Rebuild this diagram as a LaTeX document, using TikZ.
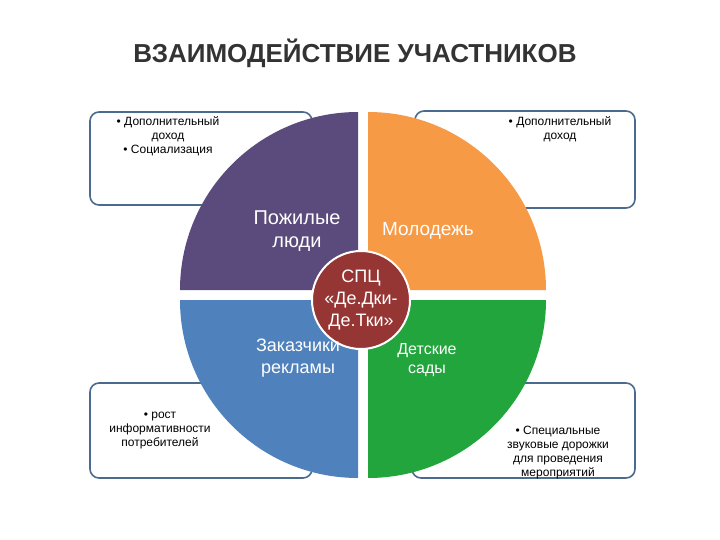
\documentclass[tikz,border=0pt]{standalone}
\usepackage{fontspec}
\setmainfont{Liberation Sans}
\definecolor{qpurple}{HTML}{5B4A7C}
\definecolor{qorange}{HTML}{F79A46}
\definecolor{qblue}{HTML}{4F81BD}
\definecolor{qgreen}{HTML}{21A53C}
\definecolor{qcenter}{HTML}{963634}
\definecolor{qbox}{HTML}{4A6A8E}
\definecolor{qtitle}{HTML}{333333}
\begin{document}
\begin{tikzpicture}[x=1pt,y=-1pt,
  infobox/.style={draw=qbox,line width=1.6pt,rounded corners=9pt,fill=white},
  boxtext/.style={align=center,font=\fontsize{12}{14}\selectfont,text=black},
  qlabel/.style={align=center,text=white}]
\useasboundingbox (0,0) rectangle (720,540);
\node[text=qtitle] (title) at (355,53) {\fontsize{26}{30}\selectfont\bfseries ВЗАИМОДЕЙСТВИЕ УЧАСТНИКОВ};
\draw[infobox] (90,112) rectangle (312,205);
\draw[infobox] (415,111) rectangle (635,208);
\draw[infobox] (90,383) rectangle (312,478);
\draw[infobox] (412,383) rectangle (635,478);
\node[boxtext] (t1) at (168,136) {• Дополнительный\\доход\\• Социализация};
\node[boxtext] (t2) at (560,129) {• Дополнительный\\доход};
\node[boxtext] (t3) at (160,431) {• рост\\информативности\\потребителей};
\node[boxtext] (t4) at (558,453) {• Специальные\\звуковые дорожки\\для проведения\\мероприятий};
% quadrants (y axis points down: angles measured clockwise)
\fill[qpurple] (358,290) -- ++(-178,0) arc[start angle=180,end angle=270,radius=178] -- cycle;
\fill[qorange] (368,290) -- ++(0,-178) arc[start angle=270,end angle=360,radius=178] -- cycle;
\fill[qblue] (358,300) -- ++(0,178) arc[start angle=90,end angle=180,radius=178] -- cycle;
\fill[qgreen] (368,300) -- ++(178,0) arc[start angle=0,end angle=90,radius=178] -- cycle;
\node[circle,fill=qcenter,draw=white,line width=2pt,minimum size=98pt,inner sep=0pt] (c) at (361,300) {};
\node[qlabel,font=\fontsize{18}{22}\selectfont] (ct) at (c) {СПЦ\\«Де.Дки-\\Де.Тки»};
\node[qlabel,font=\fontsize{20}{23}\selectfont] (q1) at (297,231) {Пожилые\\люди};
\node[qlabel,font=\fontsize{19}{23}\selectfont] (q2) at (428,231) {Молодежь};
\node[qlabel,font=\fontsize{18}{22}\selectfont] (q3) at (298,358) {Заказчики\\рекламы};
\node[qlabel,font=\fontsize{16}{19}\selectfont] (q4) at (427,360) {Детские\\сады};
\end{tikzpicture}
\end{document}
